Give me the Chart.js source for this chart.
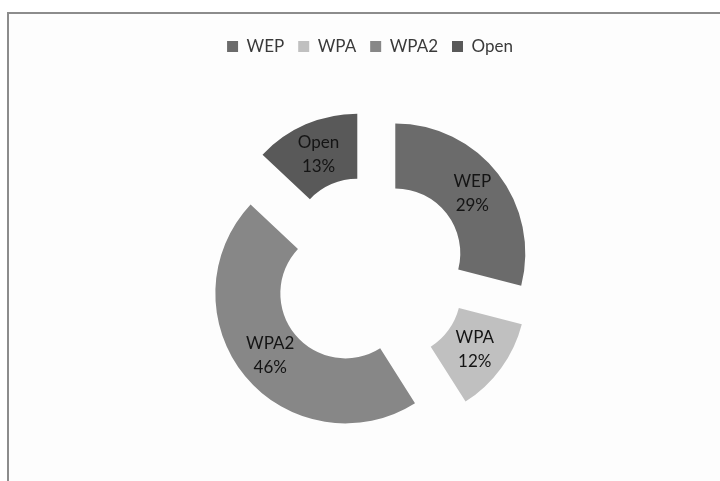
<!DOCTYPE html>
<html>
<head>
<meta charset="utf-8">
<script src="https://cdn.jsdelivr.net/npm/chart.js@4"></script>
<style>
  html, body { margin: 0; padding: 0; background: #fff; }
  #wrap { position: relative; width: 720px; height: 481px; overflow: hidden; }
  #frame {
    position: absolute; left: 7px; top: 12px; width: 740px; height: 500px;
    border-left: 2px solid #8c8c8c; border-top: 2px solid #8c8c8c;
    background: #fdfdfd;
  }
  canvas { position: absolute; left: 0; top: 0; }
</style>
</head>
<body>
<div id="wrap">
  <div id="frame"></div>
  <canvas id="chart" width="720" height="481"></canvas>
</div>
<script>
// security types share (%)
const labels = ['WEP', 'WPA', 'WPA2', 'Open'];
const shares = [29, 12, 46, 13];
const sliceColors = ['#6b6b6b', '#c0c0c0', '#878787', '#595959'];

const EXPLODE = 32;
const FONT = 'Lato, "Open Sans", sans-serif';

// draws each slice pushed out along its middle angle, plus the inside labels
const explodedSlices = {
    id: 'explodedSlices',
    beforeDatasetDraw(chart, args) {
        const ctx = chart.ctx;
        args.meta.data.forEach((arc) => {
            const mid = (arc.startAngle + arc.endAngle) / 2;
            ctx.save();
            ctx.translate(Math.cos(mid) * EXPLODE, Math.sin(mid) * EXPLODE);
            arc.draw(ctx);
            ctx.restore();
        });
        return false;
    },
    afterDatasetsDraw(chart) {
        const ctx = chart.ctx;
        const meta = chart.getDatasetMeta(0);
        const total = shares.reduce((a, b) => a + b, 0);
        ctx.save();
        ctx.font = '17px ' + FONT;
        ctx.fillStyle = '#141414';
        ctx.textAlign = 'center';
        ctx.textBaseline = 'middle';
        meta.data.forEach((arc, i) => {
            const mid = (arc.startAngle + arc.endAngle) / 2;
            const r = (arc.innerRadius + arc.outerRadius) / 2 + EXPLODE;
            const x = arc.x + Math.cos(mid) * r;
            const y = arc.y + Math.sin(mid) * r;
            ctx.fillText(labels[i], x, y - 12);
            ctx.fillText(Math.round(shares[i] / total * 100) + '%', x, y + 12);
        });
        ctx.restore();
    },
};

new Chart(document.getElementById('chart'), {
    type: 'doughnut',
    data: {
        labels,
        datasets: [{
            data: shares,
            backgroundColor: sliceColors,
            borderWidth: 0,
            offset: 0,
        }],
    },
    options: {
        responsive: false,
        animation: false,
        cutout: '50%',
        radius: 130,
        layout: { padding: { top: 24, left: 20, right: 0, bottom: -4 } },
        plugins: {
            legend: {
                position: 'top',
                labels: {
                    boxWidth: 11,
                    boxHeight: 11,
                    padding: 14,
                    color: '#3a3a3a',
                    font: { family: FONT, size: 17 },
                },
            },
            tooltip: { enabled: false },
        },
    },
    plugins: [explodedSlices],
});
</script>
</body>
</html>
